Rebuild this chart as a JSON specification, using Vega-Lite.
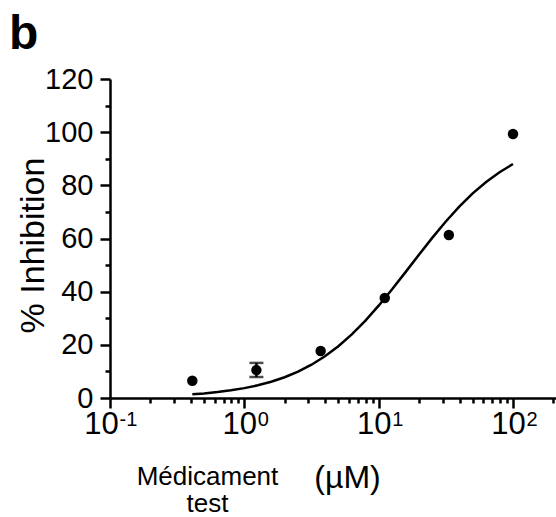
{
  "$schema": "https://vega.github.io/schema/vega-lite/v6.json",
  "autosize": {"type": "none"},
  "padding": {"left": 110, "top": 79, "right": 0, "bottom": 119},
  "width": 446,
  "height": 319,
  "background": "white",
  "config": {"view": {"stroke": null}, "font": "Liberation Sans"},
  "title": {"text": "b", "anchor": "start", "frame": "group", "orient": "top", "fontSize": 48, "fontWeight": "bold", "font": "Liberation Sans", "color": "black", "baseline": "alphabetic", "offset": 0, "dx": -101, "dy": 32},
  "datasets": {
    "points": [
      {"conc": 0.41, "inhib": 6.5},
      {"conc": 1.23, "inhib": 10.5},
      {"conc": 3.7, "inhib": 17.7},
      {"conc": 11.1, "inhib": 37.6},
      {"conc": 33.3, "inhib": 61.3},
      {"conc": 100, "inhib": 99.3}
    ],
    "errors": [
      {"conc": 1.23, "lo": 7.9, "hi": 13.2}
    ],
    "curve": [
      {"conc": 0.41, "inhib": 1.38},
      {"conc": 0.501, "inhib": 1.72},
      {"conc": 0.631, "inhib": 2.23},
      {"conc": 0.794, "inhib": 2.88},
      {"conc": 1.0, "inhib": 3.71},
      {"conc": 1.259, "inhib": 4.77},
      {"conc": 1.585, "inhib": 6.11},
      {"conc": 1.995, "inhib": 7.81},
      {"conc": 2.512, "inhib": 9.92},
      {"conc": 3.162, "inhib": 12.52},
      {"conc": 3.981, "inhib": 15.69},
      {"conc": 5.012, "inhib": 19.48},
      {"conc": 6.31, "inhib": 23.93},
      {"conc": 7.943, "inhib": 29.03},
      {"conc": 10.0, "inhib": 34.72},
      {"conc": 12.59, "inhib": 40.88},
      {"conc": 15.85, "inhib": 47.35},
      {"conc": 19.95, "inhib": 53.9},
      {"conc": 25.12, "inhib": 60.32},
      {"conc": 31.62, "inhib": 66.4},
      {"conc": 39.81, "inhib": 71.98},
      {"conc": 50.12, "inhib": 76.96},
      {"conc": 63.1, "inhib": 81.28},
      {"conc": 79.43, "inhib": 84.95},
      {"conc": 100.0, "inhib": 88.01}
    ]
  },
  "layer": [
    {
      "data": {"name": "curve"},
      "mark": {"type": "line", "color": "black", "strokeWidth": 2.5},
      "encoding": {
        "x": {
          "field": "conc", "type": "quantitative",
          "scale": {"type": "log", "domain": [0.1, 209], "nice": false},
          "axis": {
            "orient": "bottom",
            "title": "(µM)",
            "titleFont": "Liberation Sans", "titleFontSize": 32, "titleFontWeight": "normal", "titleColor": "black",
            "titleX": 237, "titleY": 89, "titleAlign": "center", "titleBaseline": "alphabetic", "titleAnchor": null,
            "values": [0.1, 0.2, 0.3, 0.4, 0.5, 0.6, 0.7, 0.8, 0.9, 1, 2, 3, 4, 5, 6, 7, 8, 9, 10, 20, 30, 40, 50, 60, 70, 80, 90, 100, 200],
            "labelExpr": "indexof([0.1, 1, 10, 100], datum.value) >= 0 ? '10' : ''",
            "labelFont": "Liberation Sans", "labelFontSize": 31, "labelColor": "black",
            "labelPadding": 1, "labelFlush": false, "labelOverlap": false,
            "labelOffset": {"condition": {"test": "datum.value == 0.1", "value": -9}, "value": -5},
            "tickSize": {"condition": {"test": "indexof([0.1, 1, 10, 100], datum.value) >= 0", "value": 10}, "value": 5},
            "tickWidth": 2.5, "tickColor": "black",
            "domainWidth": 2.5, "domainColor": "black",
            "grid": false
          }
        },
        "y": {
          "field": "inhib", "type": "quantitative",
          "scale": {"domain": [0, 120], "nice": false},
          "axis": {
            "orient": "left",
            "title": "% Inhibition",
            "titleFont": "Liberation Sans", "titleFontSize": 34, "titleFontWeight": "normal", "titleColor": "black",
            "titleAngle": -90, "titleX": -67, "titleY": 166, "titleAlign": "center", "titleBaseline": "alphabetic", "titleAnchor": null,
            "values": [0, 10, 20, 30, 40, 50, 60, 70, 80, 90, 100, 110, 120],
            "labelExpr": "datum.value % 20 == 0 ? datum.label : ''",
            "labelFont": "Liberation Sans", "labelFontSize": 29, "labelColor": "black",
            "labelPadding": 7, "labelFlush": false, "labelOverlap": false,
            "tickSize": {"condition": {"test": "datum.value % 20 == 0", "value": 10}, "value": 5},
            "tickWidth": 2.5, "tickColor": "black",
            "domainWidth": 2.5, "domainColor": "black",
            "grid": false
          }
        }
      }
    },
    {
      "data": {"name": "errors"},
      "mark": {"type": "rule", "color": "black", "strokeWidth": 2.5},
      "encoding": {
        "x": {
          "field": "conc", "type": "quantitative",
          "axis": {
            "orient": "bottom",
            "title": ["Médicament", "test"],
            "titleFont": "Liberation Sans", "titleFontSize": 26, "titleFontWeight": "normal", "titleColor": "black",
            "titleX": 97, "titleY": 86, "titleAlign": "center", "titleBaseline": "alphabetic", "titleAnchor": null,
            "titleLineHeight": 27,
            "domain": false, "ticks": false, "labels": false, "grid": false
          }
        },
        "y": {"field": "lo", "type": "quantitative", "axis": null},
        "y2": {"field": "hi"}
      }
    },
    {
      "data": {"name": "errors"},
      "mark": {"type": "tick", "color": "black", "orient": "horizontal", "size": 14, "thickness": 2.5},
      "encoding": {
        "x": {
          "field": "conc", "type": "quantitative",
          "axis": {
            "orient": "bottom",
            "title": null,
            "values": [0.1, 1, 10, 100],
            "labelExpr": "datum.value == 0.1 ? '-1' : datum.value == 1 ? '0' : datum.value == 10 ? '1' : '2'",
            "labelFont": "Liberation Sans", "labelFontSize": 20, "labelColor": "black",
            "labelAlign": "left", "labelBaseline": "top",
            "labelOffset": {"condition": {"test": "datum.value == 0.1", "value": 9}, "value": 13},
            "labelPadding": 11, "labelFlush": false, "labelOverlap": false,
            "domain": false, "ticks": false, "tickSize": 0, "grid": false
          }
        },
        "y": {"field": "lo", "type": "quantitative", "axis": null}
      }
    },
    {
      "data": {"name": "errors"},
      "mark": {"type": "tick", "color": "black", "orient": "horizontal", "size": 14, "thickness": 2.5},
      "encoding": {
        "x": {"field": "conc", "type": "quantitative", "axis": null},
        "y": {"field": "hi", "type": "quantitative", "axis": null}
      }
    },
    {
      "data": {"name": "points"},
      "mark": {"type": "point", "filled": true, "color": "black", "opacity": 1, "size": 110},
      "encoding": {
        "x": {"field": "conc", "type": "quantitative", "axis": null},
        "y": {"field": "inhib", "type": "quantitative", "axis": null}
      }
    }
  ],
  "resolve": {"axis": {"x": "independent", "y": "independent"}}
}
